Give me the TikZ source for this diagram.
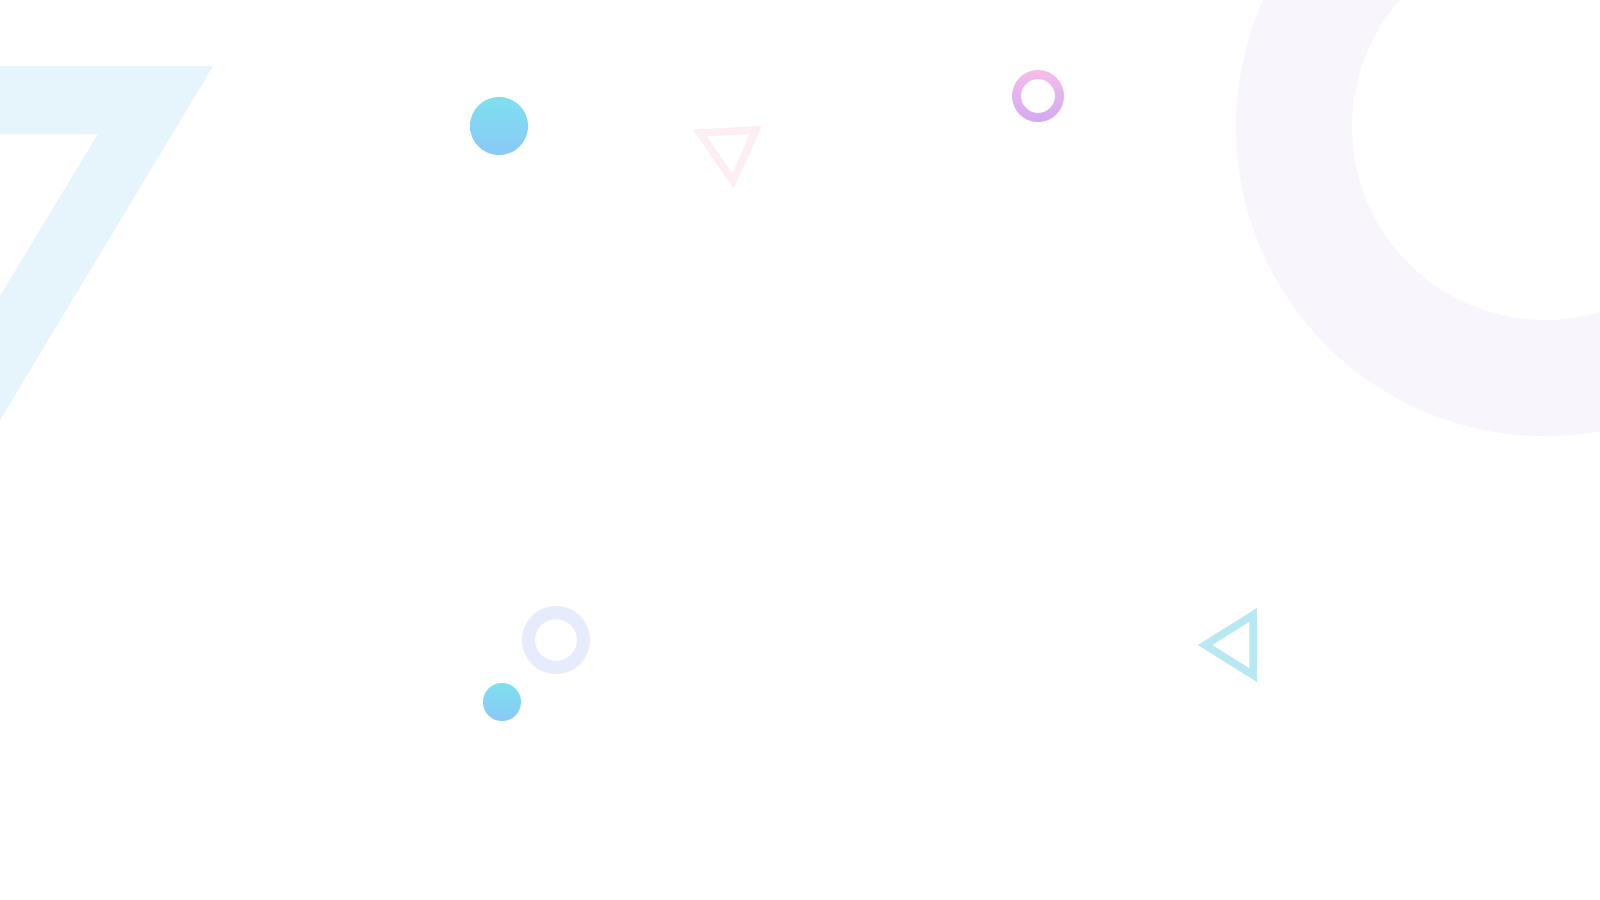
\documentclass[tikz,border=0pt]{standalone}
\usepackage{tikz}
\definecolor{sevenblue}{HTML}{E6F4FB}
\definecolor{ringlilac}{HTML}{F8F6FC}
\definecolor{dotcyan}{HTML}{7EE0EE}
\definecolor{dotblue}{HTML}{8AC8F8}
\definecolor{tripink}{HTML}{FDEEF3}
\definecolor{ringpink}{HTML}{F5BEE9}
\definecolor{ringpurple}{HTML}{D3A8F4}
\definecolor{ringpale}{HTML}{E6ECFB}
\definecolor{tricyan}{HTML}{B8E9F2}
\tikzset{
  dot/.style={top color=dotcyan, bottom color=dotblue},
  outline/.style={line width=0.075cm, line join=miter}
}
\begin{document}
\begin{tikzpicture}[x=0.01cm,y=-0.01cm]
  \useasboundingbox[fill=white] (0,0) rectangle (1600,900);
  \begin{scope}
    \clip (0,0) rectangle (1600,900);
    % big seven
    \fill[sevenblue] (0,66) -- (213,66) -- (0,420) -- (0,296) -- (98,134) -- (0,134) -- cycle;
    % big ring
    \fill[ringlilac, even odd rule] (1545,127) circle (309) (1545,127) circle (193);
  \end{scope}
  % dots
  \shade[dot] (499,126) circle (29);
  \shade[dot] (502,702) circle (19);
  % rings
  \shade[top color=ringpink, bottom color=ringpurple, even odd rule]
    (1038,96) circle (26) (1038,96) circle (17);
  \fill[ringpale, even odd rule] (556,640) circle (34) (556,640) circle (21);
  % triangles
  \draw[outline, tripink] (700,133) -- (756,130) -- (733,181) -- cycle;
  \draw[outline, tricyan] (1205,645) -- (1253,615) -- (1253,675) -- cycle;
\end{tikzpicture}
\end{document}
